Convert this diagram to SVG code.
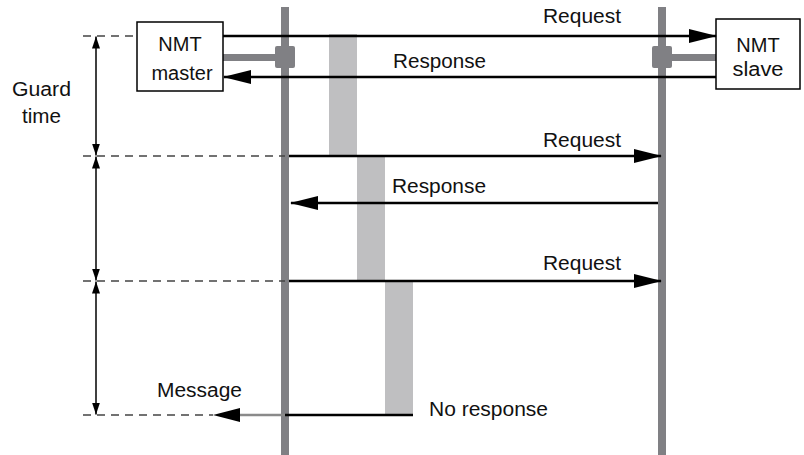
<svg xmlns="http://www.w3.org/2000/svg" width="804" height="455" viewBox="0 0 804 455">
<style>
text{font-family:"Liberation Sans",Arial,sans-serif;font-size:20px;fill:#111;}
.mid{text-anchor:middle;}
.life{fill:#808084;}
.bar{fill:#bfbfc1;}
.dash{stroke:#444;stroke-width:1.5;stroke-dasharray:8 6;fill:none;}
.msg{stroke:#000;stroke-width:2.5;fill:none;}
.dim{stroke:#000;stroke-width:1.5;fill:none;}
.box{fill:#fff;stroke:#000;stroke-width:1.5;}
.link{fill:#808084;}
</style>
<defs>
<marker id="ah" viewBox="0 0 28 14" markerWidth="28" markerHeight="14" refX="27" refY="7" orient="auto" markerUnits="userSpaceOnUse">
<path d="M0,0 L28,7 L0,14 Z" fill="#000"/>
</marker>
<marker id="dh" viewBox="0 0 12 8" markerWidth="12" markerHeight="8" refX="12" refY="4" orient="auto" markerUnits="userSpaceOnUse">
<path d="M0,0 L12,4 L0,8 Z" fill="#000"/>
</marker>
</defs>
<g id="lifelines">
<rect class="life" x="281" y="7" width="8" height="448"/>
<rect class="life" x="658" y="7" width="8" height="448"/>
</g>
<g id="processing">
<rect class="bar" x="329" y="34" width="28" height="122"/>
<rect class="bar" x="357" y="156" width="28" height="125"/>
<rect class="bar" x="385" y="281" width="28" height="134"/>
</g>
<g id="guard-time">
<line class="dash" x1="83" y1="36" x2="137" y2="36"/>
<line class="dash" x1="83" y1="156" x2="285" y2="156"/>
<line class="dash" x1="83" y1="281" x2="285" y2="281"/>
<line class="dash" x1="83" y1="415" x2="213" y2="415"/>
<line class="dim" x1="96" y1="96" x2="96" y2="36.5" marker-end="url(#dh)"/>
<line class="dim" x1="96" y1="96" x2="96" y2="155.5" marker-end="url(#dh)"/>
<line class="dim" x1="96" y1="218" x2="96" y2="156.5" marker-end="url(#dh)"/>
<line class="dim" x1="96" y1="218" x2="96" y2="280.5" marker-end="url(#dh)"/>
<line class="dim" x1="96" y1="348" x2="96" y2="281.5" marker-end="url(#dh)"/>
<line class="dim" x1="96" y1="348" x2="96" y2="414.5" marker-end="url(#dh)"/>
<text x="12" y="96" textLength="59" lengthAdjust="spacingAndGlyphs">Guard</text>
<text x="22" y="123" textLength="39" lengthAdjust="spacingAndGlyphs">time</text>
</g>
<g id="nmt-master">
<rect class="link" x="223" y="54" width="54" height="7"/>
<rect class="link" x="275" y="46" width="20" height="22" rx="2"/>
<rect class="box" x="137" y="22" width="86" height="69"/>
<text class="mid" x="180" y="51">NMT</text>
<text class="mid" x="182" y="80">master</text>
</g>
<g id="nmt-slave">
<rect class="link" x="670" y="54" width="46" height="7"/>
<rect class="link" x="652" y="46" width="20" height="22" rx="2"/>
<rect class="box" x="716" y="19" width="84" height="70"/>
<text class="mid" x="758" y="52">NMT</text>
<text class="mid" x="758" y="76" textLength="51" lengthAdjust="spacingAndGlyphs">slave</text>
</g>
<g id="connectors">
<line class="msg" x1="223" y1="36" x2="716" y2="36" marker-end="url(#ah)"/>
<line class="msg" x1="716" y1="77" x2="224" y2="77" marker-end="url(#ah)"/>
<line class="msg" x1="289" y1="156" x2="661" y2="156" marker-end="url(#ah)"/>
<line class="msg" x1="658" y1="203" x2="291" y2="203" marker-end="url(#ah)"/>
<line class="msg" x1="289" y1="281" x2="661" y2="281" marker-end="url(#ah)"/>
<line class="msg" x1="413" y1="415" x2="285" y2="415"/>
<line x1="285" y1="415" x2="238" y2="415" stroke="#8a8a8a" stroke-width="2.5"/>
<path d="M240,408 L213,415 L240,422 Z" fill="#000"/>
</g>
<g id="labels">
<text x="543" y="23" textLength="78" lengthAdjust="spacingAndGlyphs">Request</text>
<text x="393" y="68" textLength="93" lengthAdjust="spacingAndGlyphs">Response</text>
<text x="543" y="147" textLength="78" lengthAdjust="spacingAndGlyphs">Request</text>
<text x="392" y="193" textLength="94" lengthAdjust="spacingAndGlyphs">Response</text>
<text x="543" y="270" textLength="78" lengthAdjust="spacingAndGlyphs">Request</text>
<text x="157" y="397" textLength="85" lengthAdjust="spacingAndGlyphs">Message</text>
<text x="429" y="416" textLength="119" lengthAdjust="spacingAndGlyphs">No response</text>
</g>
</svg>
